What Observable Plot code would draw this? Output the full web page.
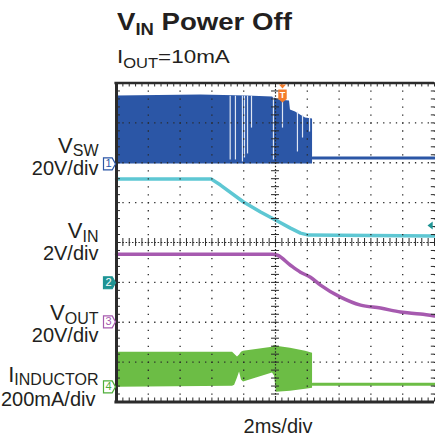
<!DOCTYPE html>
<html><head><meta charset="utf-8">
<script src="https://cdn.jsdelivr.net/npm/d3@7"></script>
<script src="https://cdn.jsdelivr.net/npm/@observablehq/plot@0.6"></script>
<style>
body{margin:0;background:#fff;font-family:"Liberation Sans",Arial,sans-serif;width:435px;height:436px;overflow:hidden;position:relative;color:#231f20}
#title{position:absolute;left:117px;top:10px;font-weight:bold;font-size:24px;line-height:1;white-space:nowrap;transform:scaleX(1.15);transform-origin:left}
#title sub{font-size:16px;vertical-align:baseline;position:relative;top:5px}
#subtitle{position:absolute;left:117px;top:47px;font-size:19px;line-height:1;white-space:nowrap;transform:scaleX(1.18);transform-origin:left}
#subtitle sub{font-size:14px;vertical-align:baseline;position:relative;top:5px}
#chart{position:absolute;left:0;top:74px}
</style></head><body>
<div id="title">V<sub>IN</sub> Power Off</div>
<div id="subtitle">I<sub>OUT</sub>=10mA</div>
<div id="chart"></div>
<script>
// ---------------- data read from the scope screen ----------------
// time in ms (2 ms/div, trigger at 0)
// Channel 1: VSW switching envelope (V)
const vswTime = [-10, -4.7, -1.8, -0.2, 0.2, 0.88, 0.94, 1.26, 1.57, 1.89, 2.33];
const vswHigh = [34.1, 34.6, 34.1, 33.6, 32.1, 31.6, 27.1, 26.1, 24.6, 23.1, 22.6];
// pulse-skipping dropouts in the VSW band
const gapTime = [-2.85, -2.52, -2.08, -1.95, -1.76, -1.51, -0.13, 0.44, 1.38, 1.70, 2.14];
const gapLow  = [2, 2, 1, 3, 5, 18, 2, 18, 6, 13, 16];
const gapHigh = [34, 34, 34, 34, 34, 34, 33.5, 31, 26, 24.5, 23];
// VSW after switching stops
const vswOffTime = [2.33, 10];
const vswOff = [3.0, 3.0];
// Channel 2: VIN (V)
const vinTime = [-10, -4.03, -3.46, -2.01, -0.94, 0, 0.94, 1.57, 2.08, 10];
const vin     = [5.20, 5.20, 4.90, 4.05, 3.55, 3.15, 2.74, 2.49, 2.39, 2.34];
// Channel 3: VOUT (V)
const voutTime = [-10, -0.19, 0.13, 0.94, 1.57, 2.2, 2.83, 4.09, 5.35, 6.6, 7.86, 9.12, 10];
const vout     = [33.9, 33.9, 33.4, 28.4, 24.9, 22.4, 18.4, 12.4, 8.4, 6.9, 4.9, 3.9, 2.9];
// Channel 4: inductor current band (mA)
const ilTime   = [-10, -2.7, -2.57, -2.39, -2.26, -2.14, -2.01, -0.19, -0.06, 0.06, 0.94, 1.89, 2.33];
const ilHigh   = [174, 174, 164, 150, 160, 174, 179, 199, 209, 204, 194, 179, 169];
const ilLow    = [-2, 3, 8, 45, 74, 34, 24, 69, 54, -27, -22, -12, -7];
const ilOffTime = [2.33, 10];
const ilOff = [13, 13];
// labels
const channelIds = ["1", "2", "3", "4"];
const channelNames = ["V_SW", "V_IN", "V_OUT", "I_INDUCTOR"];
const channelScales = ["20V/div", "2V/div", "20V/div", "200mA/div"];
const timeScaleLabel = "2ms/div";
const triggerTime = 0.44;
const triggerLevel = 2.87; // V on channel 2

// ---------------- scope settings ----------------
const ch = {
  sw:   {perDiv: 20,  ref: 1.97},
  vin:  {perDiv: 2,   ref: -1.01},
  vout: {perDiv: 20,  ref: -1.99},
  il:   {perDiv: 200, ref: -3.62}
};
const chList = [ch.sw, ch.vin, ch.vout, ch.il];
const toDiv = (c, v) => c.ref + v / c.perDiv;
const pxPerDiv = 39.875;

const blue = "#2b56a6", cyan = "#5ec7d3", purple = "#a65aaf", green = "#6cbd45",
      orange = "#f47c2b", teal = "#1f9494", ink = "#231f20", gridInk = "#2a2a2a";

const idx = a => d3.range(a.length);
const xMinor = d3.range(-10, 10.0001, 0.4);
const yMinor = d3.range(-4, 4.0001, 0.2);
const xGrid = [-8, -6, -4, -2, 2, 4, 6, 8, 10];
const yGrid = [-3, -2, -1, 1, 2, 3];

const chanSymbol = {draw(c, size) {
  const r = Math.sqrt(size / Math.PI);
  c.moveTo(-r, -r); c.lineTo(r * 0.45, -r); c.lineTo(r, 0); c.lineTo(r * 0.45, r); c.lineTo(-r, r); c.closePath();
}};
const trigSymbol = {draw(c, size) {
  const r = Math.sqrt(size / Math.PI);
  c.moveTo(-r * 0.65, -r); c.lineTo(r * 0.65, -r); c.lineTo(r * 0.65, r * 0.45); c.lineTo(0, r); c.lineTo(-r * 0.65, r * 0.45); c.closePath();
}};
const downTri = {draw(c, size) {
  const r = Math.sqrt(size / Math.PI);
  c.moveTo(-r, -r * 0.6); c.lineTo(r, -r * 0.6); c.lineTo(0, r * 0.6); c.closePath();
}};
const leftArrow = {draw(c, size) {
  const r = Math.sqrt(size / Math.PI);
  c.moveTo(-r, 0); c.lineTo(r * 0.3, -r); c.lineTo(r * 0.3, r); c.closePath();
}};

// label layout (pixels relative to each channel's reference level)
const nameDy  = [-11.3, -44.4, -1.7, -5];
const scaleDy = [10.8, -23, 20.5, 18.8];

const plot = Plot.plot({
  width: 435, height: 362,
  marginTop: 8.5, marginBottom: 34.5, marginLeft: 116, marginRight: 1,
  x: {domain: [-10, 10], axis: null},
  y: {domain: [-4, 4], axis: null},
  style: {fontFamily: "'Liberation Sans', Arial, sans-serif", background: "white", overflow: "visible", color: ink},
  marks: [
    // VSW switching band
    Plot.area(idx(vswTime), {x1: i => vswTime[i], y1: () => ch.sw.ref, y2: i => toDiv(ch.sw, vswHigh[i]), fill: blue}),
    Plot.ruleX(idx(gapTime), {x: i => gapTime[i], y1: i => toDiv(ch.sw, gapLow[i]), y2: i => toDiv(ch.sw, gapHigh[i]), stroke: "#dfe6f3", strokeWidth: 1.2}),
    Plot.line(idx(vswOffTime), {x: i => vswOffTime[i], y: i => toDiv(ch.sw, vswOff[i]), stroke: blue, strokeWidth: 3}),
    // VIN
    Plot.line(idx(vinTime), {x: i => vinTime[i], y: i => toDiv(ch.vin, vin[i]), stroke: cyan, strokeWidth: 3.5}),
    // VOUT
    Plot.line(idx(voutTime), {x: i => voutTime[i], y: i => toDiv(ch.vout, vout[i]), stroke: purple, strokeWidth: 3.5, curve: "monotone-x"}),
    // inductor current
    Plot.area(idx(ilTime), {x1: i => ilTime[i], y1: i => toDiv(ch.il, ilLow[i]), y2: i => toDiv(ch.il, ilHigh[i]), fill: green}),
    Plot.line(idx(ilOffTime), {x: i => ilOffTime[i], y: i => toDiv(ch.il, ilOff[i]), stroke: green, strokeWidth: 3}),
    // graticule
    Plot.ruleX(xGrid, {stroke: gridInk, strokeWidth: 1.3, strokeDasharray: "1.3 6.675"}),
    Plot.ruleY(yGrid, {stroke: gridInk, strokeWidth: 1.3, strokeDasharray: "1.3 5.06"}),
    Plot.ruleX([0], {stroke: gridInk, strokeWidth: 1.2, strokeDasharray: "1.5 1.7"}),
    Plot.ruleY([0], {stroke: gridInk, strokeWidth: 1.2, strokeDasharray: "1.5 1.7"}),
    Plot.ruleY(yMinor, {x1: -0.25, x2: 0.25, stroke: gridInk, strokeWidth: 1}),
    Plot.ruleX(xMinor, {y1: -0.1, y2: 0.1, stroke: gridInk, strokeWidth: 1}),
    Plot.ruleX(xMinor, {y1: 4, y2: 3.9, stroke: gridInk, strokeWidth: 1}),
    Plot.ruleX(xMinor, {y1: -4, y2: -3.9, stroke: gridInk, strokeWidth: 1}),
    Plot.ruleY(yMinor, {x1: -10, x2: -9.75, stroke: gridInk, strokeWidth: 1}),
    Plot.ruleY(yMinor, {x1: 9.8, x2: 10, stroke: gridInk, strokeWidth: 1}),
    // frame
    Plot.ruleX([-10], {stroke: "#2b2b2b", strokeWidth: 3}),
    Plot.ruleY([-4], {stroke: "#2b2b2b", strokeWidth: 3, x1: -10.1, x2: 10}),
    Plot.ruleY([4], {stroke: "#2b2b2b", strokeWidth: 2.5, x1: -10.1, x2: 10}),
    // channel markers
    Plot.dot(idx(channelIds), {x: () => -10, y: i => chList[i].ref, dx: -7, r: 6, symbol: chanSymbol,
      fill: i => i === 1 ? teal : "white", stroke: i => [blue, teal, purple, "#4fae3a"][i], strokeWidth: 1.2}),
    Plot.text(idx(channelIds), {x: () => -10, y: i => chList[i].ref, dx: -8, text: i => channelIds[i], fontSize: 11,
      fill: i => i === 1 ? "white" : [blue, teal, purple, "#4fae3a"][i]}),
    // trigger markers
    Plot.dot([triggerTime], {x: d => d, y: () => 4, dy: 3.5, r: 3.5, symbol: downTri, fill: orange}),
    Plot.dot([triggerTime], {x: d => d, y: () => 4, dy: 13, r: 6.5, symbol: trigSymbol, fill: orange}),
    Plot.text([triggerTime], {x: d => d, y: () => 4, dy: 12, text: () => "T", fill: "white", fontSize: 9, fontWeight: "bold"}),
    Plot.dot([triggerLevel], {x: () => 10, y: d => toDiv(ch.vin, d), dx: -3, r: 4, symbol: leftArrow, fill: teal}),
    // channel labels
    Plot.text(idx(channelNames), {x: () => -10, y: i => chList[i].ref - nameDy[i] / pxPerDiv, dx: -18,
      text: i => channelNames[i], textAnchor: "end", lineAnchor: "bottom", fontSize: 22, fill: ink}),
    Plot.text(idx(channelScales), {x: () => -10, y: i => chList[i].ref - scaleDy[i] / pxPerDiv, dx: -18,
      text: i => channelScales[i], textAnchor: "end", lineAnchor: "bottom", fontSize: 20, fill: ink}),
    // time base
    Plot.text([timeScaleLabel], {x: () => 0, y: () => -4, dx: 2.5, dy: 30.5, text: d => d, lineAnchor: "bottom", fontSize: 20, fill: ink})
  ]
});

// subscripts for channel names
plot.querySelectorAll("text").forEach(t => {
  const s = t.textContent;
  if (s.includes("_")) {
    const [a, b] = s.split("_");
    t.textContent = a;
    const sp = document.createElementNS("http://www.w3.org/2000/svg", "tspan");
    sp.setAttribute("font-size", "16");
    sp.setAttribute("dy", "3.5");
    sp.textContent = b;
    t.appendChild(sp);
  }
});
// the 4th label's scale line ends a little further left, starting at the page edge
{
  const scaleTexts = [...plot.querySelectorAll("text")].filter(t => t.textContent === "200mA/div");
  scaleTexts.forEach(t => {
    const tr = t.getAttribute("transform");
    if (tr) t.setAttribute("transform", tr.replace(/translate\(([-\d.]+)/, (m, x) => `translate(${+x - 3}`));
  });
}
document.getElementById("chart").appendChild(plot);
</script>
</body></html>
